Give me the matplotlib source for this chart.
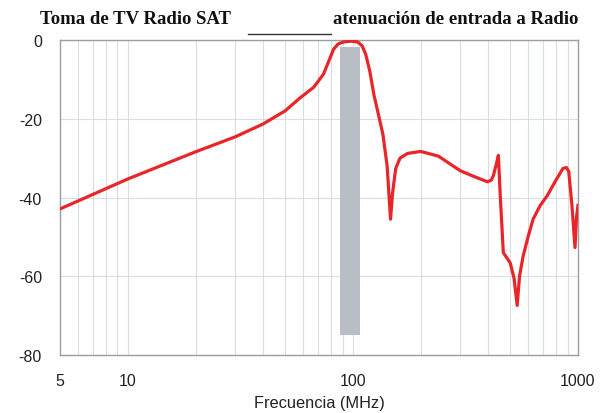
import matplotlib
matplotlib.use("Agg")
import matplotlib.pyplot as plt
from matplotlib.ticker import FixedLocator, NullFormatter

plt.rcParams["axes.unicode_minus"] = False
plt.rcParams["font.family"] = "Liberation Sans"

# -------------------------
# Data
# -------------------------
freq_mhz = [5, 10, 20, 30, 40, 50, 58, 67, 74, 78, 82, 86, 91, 98, 105, 110, 114,
            119, 124, 130, 136, 142, 147, 150, 155, 162, 175, 200, 240, 300, 350,
            396, 412, 421, 436, 443, 452, 466, 500, 520, 537, 550, 570, 600, 632,
            680, 729, 800, 858, 890, 910, 940, 970, 985, 1000]
atten_db = [-42.9, -35.3, -28.4, -24.6, -21.3, -18.0, -14.8, -12.0, -8.7, -5.5,
            -2.4, -1.0, -0.5, -0.3, -0.5, -1.5, -3.6, -8.0, -13.9, -19.0, -24.0,
            -32.0, -45.5, -39.0, -32.6, -30.0, -28.8, -28.3, -29.5, -33.2, -34.8,
            -36.0, -35.6, -34.4, -31.0, -29.3, -40.0, -54.0, -56.6, -60.5, -67.4,
            -60.0, -55.0, -50.0, -45.5, -42.0, -39.6, -35.5, -32.6, -32.4, -33.4,
            -42.0, -52.7, -45.0, -42.0]

fm_band = [88, 108]          # MHz, grey band
fm_band_db = [-75, -1.8]     # bottom / top of band

x_ticks = [5, 10, 100, 1000]
x_ticklabels = ["5", "10", "100", "1000"]
y_ticks = [0, -20, -40, -60, -80]

# -------------------------
# Plot
# -------------------------
fig = plt.figure(figsize=(6.03, 4.14), dpi=100)
ax = fig.add_axes([0.0995, 0.140, 0.859, 0.761])

ax.set_xscale("log")
ax.set_xlim(5, 1000)
ax.set_ylim(-80, 0)

ax.fill_between(fm_band, fm_band_db[0], fm_band_db[1], color="#b9bdc5", lw=0, zorder=2)
ax.plot(freq_mhz, atten_db, color="#e8262a", lw=2.3, zorder=3, solid_joinstyle="round")

# grid
ax.xaxis.set_major_locator(FixedLocator(x_ticks))
ax.xaxis.set_minor_locator(FixedLocator(
    [m * 10 ** e for e in range(0, 3) for m in range(1, 10) if 5 < m * 10 ** e < 1000]))
ax.xaxis.set_minor_formatter(NullFormatter())
ax.set_xticklabels(x_ticklabels)
ax.set_yticks(y_ticks)
ax.grid(True, which="both", axis="x", color="#d9dce2", lw=0.8)
ax.grid(True, which="major", axis="y", color="#d9dce2", lw=0.8)
ax.tick_params(which="both", length=0, labelsize=11.5, colors="#222222")
ax.tick_params(axis="x", pad=13)
ax.tick_params(axis="y", pad=13)
for s in ax.spines.values():
    s.set_color("#9a9ea6")
    s.set_linewidth(1.0)

ax.set_xlabel("Frecuencia (MHz)", fontsize=11.8, color="#222222", labelpad=5)

# title pieces
title_kw = dict(family="Liberation Serif", weight="bold", fontsize=13.5, color="#111111",
                va="center")
fig.text(40 / 603, 1 - 20 / 414, "Toma de TV Radio SAT", ha="left", **title_kw)
fig.text(333 / 603, 1 - 20 / 414, "atenuación de entrada a Radio", ha="left", **title_kw)
fig.add_artist(plt.Line2D([248 / 603, 331 / 603], [1 - 35 / 414, 1 - 35 / 414],
                          color="#333333", lw=1.0, transform=fig.transFigure))

fig.savefig("out.png", dpi=100)
